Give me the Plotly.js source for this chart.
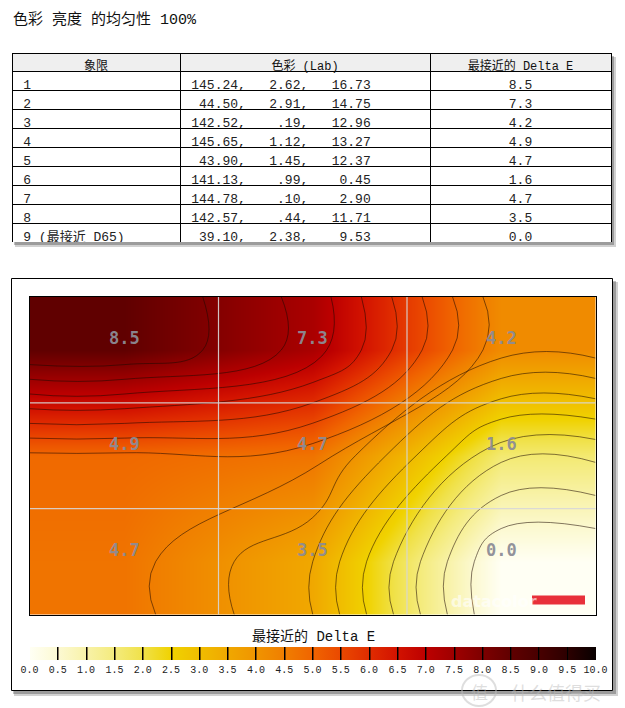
<!DOCTYPE html>
<html>
<head>
<meta charset="utf-8">
<script src="https://cdn.plot.ly/plotly-3.0.1.min.js"></script>
<style>
  html, body { margin: 0; padding: 0; background: #ffffff; }
  #chart { width: 625px; height: 708px; }
</style>
</head>
<body>
<div id="chart"></div>
<script>
// ---------------- data ----------------
const pageTitle = '色彩 亮度 的均匀性 100%';
const tableHeaders = ['象限', '色彩 (Lab)', '最接近的 Delta E'];
const quadrants = ['1', '2', '3', '4', '5', '6', '7', '8', '9 (最接近 D65)'];
const labL = [145.24, 44.50, 142.52, 145.65, 43.90, 141.13, 144.78, 142.57, 39.10];
const labA = [2.62, 2.91, 0.19, 1.12, 1.45, 0.99, 0.10, 0.44, 2.38];
const labB = [16.73, 14.75, 12.96, 13.27, 12.37, 0.45, 2.90, 11.71, 9.53];
const deltaE = [8.5, 7.3, 4.2, 4.9, 4.7, 1.6, 4.7, 3.5, 0.0];
const gridCols = [0, 1, 2];
const gridRows = [0, 1, 2];
const colorbarTitle = '最接近的 Delta E';
const colorbarTickVals = [0, 0.5, 1, 1.5, 2, 2.5, 3, 3.5, 4, 4.5, 5, 5.5, 6, 6.5, 7, 7.5, 8, 8.5, 9, 9.5, 10];
const colorbarTickText = ['0.0','0.5','1.0','1.5','2.0','2.5','3.0','3.5','4.0','4.5','5.0','5.5','6.0','6.5','7.0','7.5','8.0','8.5','9.0','9.5','10.0'];

// ---------------- helpers ----------------
const W = 625, H = 708;
const px = x => x / W;
const py = y => 1 - y / H;
const NB = '\u00a0';
const pad = (s, n) => NB.repeat(Math.max(0, n - s.length)) + s;
const fmtA = v => v.toFixed(2).replace(/^0\./, '.');
const lead = '\u2005';

const labText = labL.map((L, i) =>
  lead + pad(L.toFixed(2), 6) + ',' + pad(fmtA(labA[i]), 7) + ',' + pad(labB[i].toFixed(2), 8));
const deText = deltaE.map(v => v.toFixed(1));
const quadText = quadrants.map(q => lead + q);

// Grid for the contour: cell centres plus the plot edges (edge cells repeat the outer values)
const nC = gridCols.length, nR = gridRows.length;
const colIdx = [0].concat(gridCols, [nC - 1]);
const rowIdx = [0].concat(gridRows, [nR - 1]);
const xPos = [0].concat(gridCols.map(c => c + 0.5), [nC]);
const yPos = [0].concat(gridRows.map(r => r + 0.5), [nR]);
const zGrid = rowIdx.map(r => colIdx.map(c => deltaE[r * nC + c]));

const scaleColors = [
  [0.00, '#fffff4'], [0.05, '#fcf9d2'], [0.10, '#f8f2a8'], [0.15, '#f4eb7c'],
  [0.20, '#f0e148'], [0.25, '#f0d200'], [0.30, '#f0bd00'], [0.35, '#f0a800'],
  [0.40, '#f09400'], [0.45, '#f07e00'], [0.50, '#f06400'], [0.55, '#ea4800'],
  [0.60, '#e02c00'], [0.65, '#d21200'], [0.70, '#bc0000'], [0.75, '#9e0000'],
  [0.80, '#7e0000'], [0.85, '#600000'], [0.90, '#480000'], [0.95, '#2c0000'],
  [1.00, '#080000']
];

const monoCJK = '"Liberation Mono", "Noto Sans CJK SC", monospace';

// ---------------- traces ----------------
const tableTrace = {
  type: 'table',
  domain: { x: [px(12), px(611)], y: [py(242), py(53)] },
  columnwidth: [168, 250, 181],
  header: {
    values: tableHeaders,
    align: ['center', 'center', 'center'],
    height: 18,
    fill: { color: '#efefef' },
    line: { color: '#000000', width: 1 },
    font: { family: monoCJK, size: 12, color: '#111111' }
  },
  cells: {
    values: [quadText, labText, deText],
    align: ['left', 'left', 'center'],
    height: 19,
    fill: { color: '#ffffff' },
    line: { color: '#000000', width: 1 },
    font: { family: monoCJK, size: 13, color: '#222222' }
  }
};

const contourTrace = {
  type: 'contour',
  x: xPos,
  y: yPos,
  z: zGrid,
  zmin: 0,
  zmax: 10,
  colorscale: scaleColors,
  contours: { coloring: 'heatmap', start: 0.5, end: 9.5, size: 0.5, showlines: true },
  line: { color: 'rgba(30,10,0,0.55)', width: 1, smoothing: 1.3 },
  hoverinfo: 'skip',
  colorbar: {
    orientation: 'h',
    x: px(312.5), xanchor: 'center',
    y: py(647), yanchor: 'top',
    len: 566, lenmode: 'pixels',
    thickness: 13, thicknessmode: 'pixels',
    xpad: 0, ypad: 0,
    outlinewidth: 0,
    ticks: 'inside', ticklen: 13, tickwidth: 1, tickcolor: '#000000',
    tickvals: colorbarTickVals,
    ticktext: colorbarTickText,
    tickangle: 0,
    tickfont: { family: '"Liberation Mono", monospace', size: 10, color: '#222222' }
  }
};

// ---------------- layout ----------------
const gridLine = { color: 'rgba(215,215,215,0.9)', width: 1.2 };
const shapes = [
  // table shadow
  { type: 'rect', xref: 'paper', yref: 'paper', layer: 'below', x0: px(15), x1: px(616), y0: py(247), y1: py(57), fillcolor: 'rgba(0,0,0,0.18)', line: { width: 0 } },
  { type: 'rect', xref: 'paper', yref: 'paper', layer: 'below', x0: px(14), x1: px(614), y0: py(245), y1: py(56), fillcolor: 'rgba(0,0,0,0.25)', line: { width: 0 } },
  // chart panel shadow
  { type: 'rect', xref: 'paper', yref: 'paper', layer: 'below', x0: px(14), x1: px(618), y0: py(696), y1: py(282), fillcolor: 'rgba(0,0,0,0.18)', line: { width: 0 } },
  { type: 'rect', xref: 'paper', yref: 'paper', layer: 'below', x0: px(13), x1: px(616), y0: py(694), y1: py(281), fillcolor: 'rgba(0,0,0,0.25)', line: { width: 0 } },
  // chart panel
  { type: 'rect', xref: 'paper', yref: 'paper', layer: 'below', x0: px(11.5), x1: px(612.5), y0: py(690.5), y1: py(278.5), fillcolor: '#ffffff', line: { color: '#000000', width: 1 } },
  // grid lines on heatmap
  { type: 'line', xref: 'x domain', yref: 'y domain', x0: 1/3, x1: 1/3, y0: 0, y1: 1, line: gridLine },
  { type: 'line', xref: 'x domain', yref: 'y domain', x0: 2/3, x1: 2/3, y0: 0, y1: 1, line: gridLine },
  { type: 'line', xref: 'x domain', yref: 'y domain', x0: 0, x1: 1, y0: 1/3, y1: 1/3, line: gridLine },
  { type: 'line', xref: 'x domain', yref: 'y domain', x0: 0, x1: 1, y0: 2/3, y1: 2/3, line: gridLine },
  // datacolor logo bar
  { type: 'rect', xref: 'paper', yref: 'paper', x0: px(532), x1: px(585), y0: py(604.5), y1: py(595.5), fillcolor: '#e8303a', line: { width: 0 } },
  // watermark circle
  { type: 'circle', xref: 'paper', yref: 'paper', x0: px(462), x1: px(496), y0: py(706), y1: py(675), fillcolor: 'rgba(0,0,0,0)', line: { color: 'rgba(190,190,190,0.5)', width: 2 } }
];

const annotations = [
  { xref: 'paper', yref: 'paper', x: px(11), y: py(20), xanchor: 'left', yanchor: 'middle', showarrow: false,
    text: pageTitle, font: { family: monoCJK, size: 15, color: '#111111' } },
  { xref: 'paper', yref: 'paper', x: px(313), y: py(636), xanchor: 'center', yanchor: 'middle', showarrow: false,
    text: colorbarTitle, font: { family: monoCJK, size: 14, color: '#111111' } },
  { xref: 'paper', yref: 'paper', x: px(494), y: py(601), xanchor: 'center', yanchor: 'middle', showarrow: false,
    text: '<b>datacolor</b>', font: { family: 'DejaVu Sans, sans-serif', size: 16, color: 'rgba(255,255,255,0.6)' } },
  { xref: 'paper', yref: 'paper', x: px(479), y: py(691), xanchor: 'center', yanchor: 'middle', showarrow: false,
    text: '值', font: { family: '"Noto Sans CJK SC", sans-serif', size: 17, color: 'rgba(190,190,190,0.5)' } },
  { xref: 'paper', yref: 'paper', x: px(556), y: py(692), xanchor: 'center', yanchor: 'middle', showarrow: false,
    text: '什么值得买', font: { family: '"Noto Sans CJK SC", sans-serif', size: 18, color: 'rgba(190,190,190,0.5)' } }
];

// value labels at each quadrant
deltaE.forEach((v, i) => {
  const r = Math.floor(i / nC), c = i % nC;
  annotations.push({
    xref: 'x domain', yref: 'y domain',
    x: (c + 0.5) / nC, y: 1 - (r + 0.39) / nR,
    xanchor: 'center', yanchor: 'middle', showarrow: false,
    text: '<b>' + v.toFixed(1) + '</b>',
    font: { family: '"DejaVu Sans Mono", monospace', size: 17, color: 'rgba(140,140,150,0.95)' }
  });
});

const layout = {
  width: W, height: H,
  margin: { l: 0, r: 0, t: 0, b: 0, pad: 0 },
  paper_bgcolor: '#ffffff',
  plot_bgcolor: '#ffffff',
  showlegend: false,
  xaxis: {
    domain: [px(30), px(595.5)], range: [0, nC],
    showgrid: false, zeroline: false, showticklabels: false, ticks: '',
    showline: true, mirror: true, linecolor: '#000000', linewidth: 1
  },
  yaxis: {
    domain: [py(614.5), py(297)], range: [nR, 0],
    showgrid: false, zeroline: false, showticklabels: false, ticks: '',
    showline: true, mirror: true, linecolor: '#000000', linewidth: 1
  },
  shapes: shapes,
  annotations: annotations
};

Plotly.newPlot('chart', [contourTrace, tableTrace], layout, { displayModeBar: false, staticPlot: true });
</script>
</body>
</html>
